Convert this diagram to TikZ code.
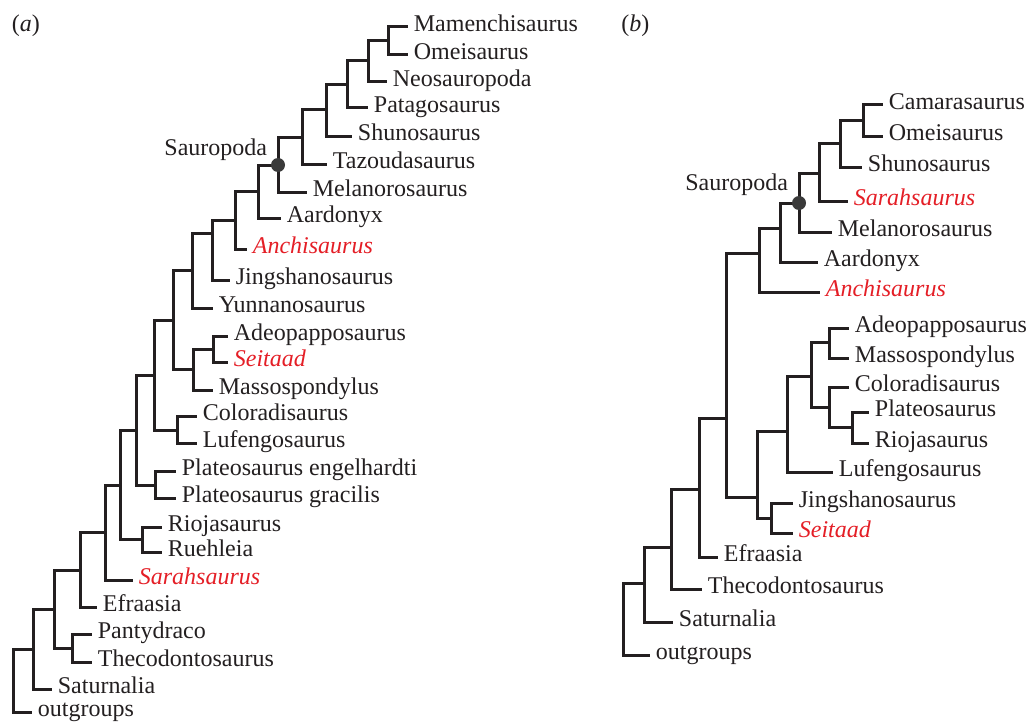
\documentclass[tikz,border=0pt]{standalone}
\usepackage{fontspec}
\setmainfont{Liberation Serif}

\definecolor{ink}{RGB}{35,31,32}
\definecolor{newred}{RGB}{228,30,38}
\definecolor{dotgray}{RGB}{58,58,58}

\tikzset{
  branch/.style={draw=ink, line width=1.5pt, line join=miter},
  taxon/.style={anchor=mid west, inner xsep=2.75pt, inner ysep=0pt, text=ink, font=\fontsize{12}{14}\selectfont},
  newtaxon/.style={taxon, text=newred, font=\fontsize{12}{14}\selectfont\itshape},
  cladedot/.style={circle, fill=dotgray, inner sep=0pt, minimum size=7pt},
  cladename/.style={anchor=mid east, inner sep=0pt, text=ink, font=\fontsize{12}{14}\selectfont},
  panel/.style={anchor=base west, inner sep=0pt, text=ink, font=\fontsize{12}{14}\selectfont},
}

\begin{document}
\begin{tikzpicture}[x=0.5pt, y=-0.5pt]
	\useasboundingbox (0,0) rectangle (1027,722);
	%%%%% (a) %%%%%
	\node[panel] (labA) at (11.5,31.5) {(\textit{a})};
	
	\node[taxon] (mamA) at (408,27) {Mamenchisaurus};
	\node[taxon] (omeA) at (408,55) {Omeisaurus};
	\node[taxon] (neoA) at (387,82) {Neosauropoda};
	\node[taxon] (patA) at (368,108) {Patagosaurus};
	\node[taxon] (shuA) at (352,136) {Shunosaurus};
	\node[taxon] (tazA) at (327,164) {Tazoudasaurus};
	\node[taxon] (melA) at (307,192) {Melanorosaurus};
	\node[taxon] (aarA) at (281,218) {Aardonyx};
	\node[newtaxon] (ancA) at (247,249) {Anchisaurus};
	\node[taxon] (jinA) at (230,280) {Jingshanosaurus};
	\node[taxon] (yunA) at (213,308) {Yunnanosaurus};
	\node[taxon] (adeA) at (228,336) {Adeopapposaurus};
	\node[newtaxon] (seiA) at (228,362) {Seitaad};
	\node[taxon] (masA) at (213,390) {Massospondylus};
	\node[taxon] (colA) at (197,416) {Coloradisaurus};
	\node[taxon] (lufA) at (197,443) {Lufengosaurus};
	\node[taxon] (pleA) at (176,471) {Plateosaurus engelhardti};
	\node[taxon] (plgA) at (176,498) {Plateosaurus gracilis};
	\node[taxon] (rioA) at (162,527) {Riojasaurus};
	\node[taxon] (rueA) at (162,552) {Ruehleia};
	\node[newtaxon] (sarA) at (133,580) {Sarahsaurus};
	\node[taxon] (efrA) at (97,607) {Efraasia};
	\node[taxon] (panA) at (92,634) {Pantydraco};
	\node[taxon] (theA) at (92,662) {Thecodontosaurus};
	\node[taxon] (satA) at (52,689) {Saturnalia};
	\node[taxon] (outA) at (32,712) {outgroups};
	
	\coordinate (a1) at (388,41);
	\coordinate (a2) at (368,61);
	\coordinate (a3) at (347,85);
	\coordinate (a4) at (326,110);
	\coordinate (a5) at (302,137);
	\coordinate (a6) at (278,165);
	\coordinate (a7) at (258,191);
	\coordinate (a8) at (235,220);
	\coordinate (a9) at (212,233);
	\coordinate (a10) at (192,270);
	\coordinate (ms1) at (213,349);
	\coordinate (ms2) at (193,369);
	\coordinate (a11) at (173,320);
	\coordinate (cl) at (177,430);
	\coordinate (a12) at (154,375);
	\coordinate (pl) at (155,485);
	\coordinate (a13) at (136,430);
	\coordinate (rr) at (142,539);
	\coordinate (a14) at (120,485);
	\coordinate (a15) at (105,532);
	\coordinate (a16) at (80,570);
	\coordinate (pt) at (72,648);
	\coordinate (a17) at (54,609);
	\coordinate (a18) at (33,649);
	\coordinate (rootA) at (13,680);
	
	\draw[branch] (a1) |- (mamA.mid west) (a1) |- (omeA.mid west);
	\draw[branch] (a2) |- (a1) (a2) |- (neoA.mid west);
	\draw[branch] (a3) |- (a2) (a3) |- (patA.mid west);
	\draw[branch] (a4) |- (a3) (a4) |- (shuA.mid west);
	\draw[branch] (a5) |- (a4) (a5) |- (tazA.mid west);
	\draw[branch] (a6) |- (a5) (a6) |- (melA.mid west);
	\draw[branch] (a7) |- (a6) (a7) |- (aarA.mid west);
	\draw[branch] (a8) |- (a7) (a8) |- (ancA.mid west);
	\draw[branch] (a9) |- (a8) (a9) |- (jinA.mid west);
	\draw[branch] (a10) |- (a9) (a10) |- (yunA.mid west);
	\draw[branch] (ms1) |- (adeA.mid west) (ms1) |- (seiA.mid west);
	\draw[branch] (ms2) |- (ms1) (ms2) |- (masA.mid west);
	\draw[branch] (a11) |- (a10) (a11) |- (ms2);
	\draw[branch] (cl) |- (colA.mid west) (cl) |- (lufA.mid west);
	\draw[branch] (a12) |- (a11) (a12) |- (cl);
	\draw[branch] (pl) |- (pleA.mid west) (pl) |- (plgA.mid west);
	\draw[branch] (a13) |- (a12) (a13) |- (pl);
	\draw[branch] (rr) |- (rioA.mid west) (rr) |- (rueA.mid west);
	\draw[branch] (a14) |- (a13) (a14) |- (rr);
	\draw[branch] (a15) |- (a14) (a15) |- (sarA.mid west);
	\draw[branch] (a16) |- (a15) (a16) |- (efrA.mid west);
	\draw[branch] (pt) |- (panA.mid west) (pt) |- (theA.mid west);
	\draw[branch] (a17) |- (a16) (a17) |- (pt);
	\draw[branch] (a18) |- (a17) (a18) |- (satA.mid west);
	\draw[branch] (rootA) |- (a18) (rootA) |- (outA.mid west);
	
	\node[cladedot] (dotA) at (a6) {};
	\node[cladename] (sauA) at (267.5,151.3) {Sauropoda};
	
	%%%%% (b) %%%%%
	\node[panel] (labB) at (621,31.5) {(\textit{b})};
	
	\node[taxon] (camB) at (883,105) {Camarasaurus};
	\node[taxon] (omeB) at (883,136) {Omeisaurus};
	\node[taxon] (shuB) at (862,167) {Shunosaurus};
	\node[newtaxon] (sarB) at (848,201) {Sarahsaurus};
	\node[taxon] (melB) at (832,232) {Melanorosaurus};
	\node[taxon] (aarB) at (818,262) {Aardonyx};
	\node[newtaxon] (ancB) at (820,292) {Anchisaurus};
	\node[taxon] (adeB) at (849,328) {Adeopapposaurus};
	\node[taxon] (masB) at (849,358) {Massospondylus};
	\node[taxon] (colB) at (849,387) {Coloradisaurus};
	\node[taxon] (plaB) at (869,412) {Plateosaurus};
	\node[taxon] (rioB) at (869,443) {Riojasaurus};
	\node[taxon] (lufB) at (833,472) {Lufengosaurus};
	\node[taxon] (jinB) at (793,503) {Jingshanosaurus};
	\node[newtaxon] (seiB) at (793,533) {Seitaad};
	\node[taxon] (efrB) at (718,557) {Efraasia};
	\node[taxon] (theB) at (702,589) {Thecodontosaurus};
	\node[taxon] (satB) at (673,622) {Saturnalia};
	\node[taxon] (outB) at (650,655) {outgroups};
	
	\coordinate (b1) at (863,121);
	\coordinate (b2) at (840,143);
	\coordinate (b3) at (819,173);
	\coordinate (b4) at (799,203);
	\coordinate (b5) at (780,228);
	\coordinate (b6) at (759,253);
	\coordinate (b7) at (829,342);
	\coordinate (b8) at (852,427);
	\coordinate (b9) at (829,407);
	\coordinate (b10) at (811,376);
	\coordinate (b11) at (787,431);
	\coordinate (b12) at (771,518);
	\coordinate (b13) at (757,497);
	\coordinate (b14) at (726,418);
	\coordinate (b15) at (699,489);
	\coordinate (b16) at (671,547);
	\coordinate (b17) at (644,583);
	\coordinate (rootB) at (623,620);
	
	\draw[branch] (b1) |- (camB.mid west) (b1) |- (omeB.mid west);
	\draw[branch] (b2) |- (b1) (b2) |- (shuB.mid west);
	\draw[branch] (b3) |- (b2) (b3) |- (sarB.mid west);
	\draw[branch] (b4) |- (b3) (b4) |- (melB.mid west);
	\draw[branch] (b5) |- (b4) (b5) |- (aarB.mid west);
	\draw[branch] (b6) |- (b5) (b6) |- (ancB.mid west);
	\draw[branch] (b7) |- (adeB.mid west) (b7) |- (masB.mid west);
	\draw[branch] (b8) |- (plaB.mid west) (b8) |- (rioB.mid west);
	\draw[branch] (b9) |- (colB.mid west) (b9) |- (b8);
	\draw[branch] (b10) |- (b7) (b10) |- (b9);
	\draw[branch] (b11) |- (b10) (b11) |- (lufB.mid west);
	\draw[branch] (b12) |- (jinB.mid west) (b12) |- (seiB.mid west);
	\draw[branch] (b13) |- (b11) (b13) |- (b12);
	\draw[branch] (b14) |- (b6) (b14) |- (b13);
	\draw[branch] (b15) |- (b14) (b15) |- (efrB.mid west);
	\draw[branch] (b16) |- (b15) (b16) |- (theB.mid west);
	\draw[branch] (b17) |- (b16) (b17) |- (satB.mid west);
	\draw[branch] (rootB) |- (b17) (rootB) |- (outB.mid west);
	
	\node[cladedot] (dotB) at (b4) {};
	\node[cladename] (sauB) at (788.3,185.6) {Sauropoda};
\end{tikzpicture}
\end{document}
